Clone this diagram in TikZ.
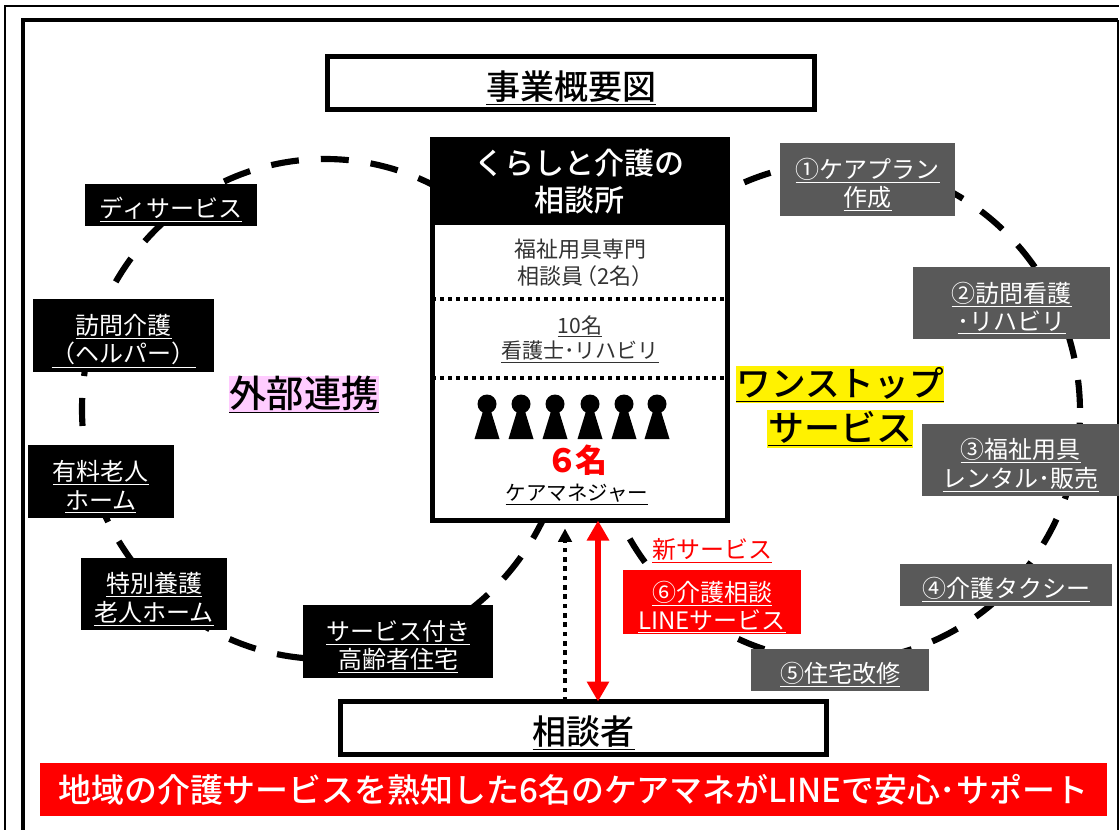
\documentclass[tikz,border=0pt]{standalone}
\usepackage{fontspec}
\setmainfont{Noto Sans CJK JP}
\newfontfamily\medfont{Noto Sans CJK JP Medium}
\usetikzlibrary{arrows.meta}
\definecolor{boxgray}{HTML}{595959}
\definecolor{pinkbg}{HTML}{FFCCFF}
\newcommand{\twolines}[2]{\rule{0pt}{23pt}\underline{#1}\\[.5pt]\underline{#2}}

\begin{document}
\begin{tikzpicture}[
		x=.75pt, y=-.75pt,
		every node/.style={align=center, inner sep=0pt, outer sep=0pt},
		labelfont/.style={font=\fontsize{18pt}{21pt}\selectfont},
		blackbox/.style={labelfont, fill=black, text=white, minimum height=54.5pt},
		graybox/.style={labelfont, fill=boxgray, text=white, minimum height=54.5pt},
		framebox/.style={draw, line width=3.75pt, fill=white, font=\medfont\fontsize{25.5pt}{30pt}\selectfont},
		ring/.style={line width=4.6pt, dash pattern=on 21pt off 16.5pt},
		>={Triangle[length=15pt, width=16pt]},
	]
	\useasboundingbox (0,0) rectangle (1119,830);

	% Outer frames
	\draw[line width=.8pt] (5,830) -- (5,6) -- (1119,6);
	\draw[line width=3.3pt] (23,830) -- (23,20) -- (1118,20);
	\draw[line width=.8pt] (1118,20) -- (1118,830);

	% Dashed rings
	\draw[ring, dash phase=31.8pt] (325,409) ellipse [x radius=243, y radius=250];
	\draw[ring, dash phase=29.5pt] (838,412) ellipse [x radius=242, y radius=249];

	% Title and client boxes
	\node[framebox, minimum width=365pt, minimum height=40pt] (T1) at (571,83.2) {\rule{0pt}{29pt}\underline{事業概要図}};
	\node[framebox, minimum width=364.5pt, minimum height=39.7pt] (C1) at (583.5,728) {\rule{0pt}{29pt}\underline{相談者}};

	% Centre box
	\node[draw, line width=3.75pt, fill=white, minimum width=221.25pt, minimum height=285.75pt] (B1) at (579.5,330) {};
	\node[fill=black, text=white, minimum width=221.25pt, minimum height=65.25pt,
		font=\medfont\fontsize{22.5pt}{27.7pt}\selectfont] (B2) at (579.5,182) {くらしと介護の\\相談所};
	\node[text=black!80, font=\fontsize{16.5pt}{20pt}\selectfont] (B3) at (580,263) {福祉用具専門\\相談員\kern-.35em（2名）\kern-.5em};
	\node[text=black!80, font=\fontsize{15.8pt}{19pt}\selectfont] (B4) at (580,339) {\underline{10名}\\\underline{看護士･リハビリ}};
	\node[text=red, font=\bfseries\fontsize{24pt}{28pt}\selectfont] (B5) at (577,460) {６\kern-.08em 名};
	\node[font=\fontsize{15.4pt}{18pt}\selectfont] (B6) at (577,495) {\underline{ケアマネジャー}};
	\draw[line width=3pt, dash pattern=on 3pt off 3pt] (B1.west |- 0,299) -- (B1.east |- 0,299);
	\draw[line width=3pt, dash pattern=on 3pt off 3pt] (B1.west |- 0,378) -- (B1.east |- 0,378);

	% Six people
	\foreach \px in {487,521,555,590,624,657} {
		\fill (\px,404) circle [radius=9.5];
		\fill (\px-3,408) -- (\px+3,408) -- (\px+12.5,439) -- (\px-12.5,439) -- cycle;
	}

	% Left ring labels
	\node[blackbox, minimum width=128.5pt, minimum height=31.5pt] (L1) at (171,205) {\rule{0pt}{22.5pt}\underline{ディサービス}};
	\node[blackbox, minimum width=135.75pt] (L2) at (123.5,335.5) {\twolines{訪問介護}{（ヘルパー）}};
	\node[blackbox, minimum width=109.5pt] (L3) at (100.75,481.5) {\twolines{有料老人}{ホーム}};
	\node[blackbox, minimum width=109.5pt] (L4) at (154,594) {\twolines{特別養護}{老人ホーム}};
	\node[blackbox, minimum width=142.5pt] (L5) at (398,641.5) {\twolines{サービス付き}{高齢者住宅}};

	% Right ring labels
	\node[graybox, minimum width=131.25pt] (R1) at (867.5,179.5) {\twolines{①ケアプラン}{作成}};
	\node[graybox, minimum width=147.75pt] (R2) at (1011.5,303) {\twolines{②訪問看護}{･リハビリ}};
	\node[graybox, minimum width=147.75pt] (R3) at (1020.5,460) {\twolines{③福祉用具}{レンタル･販売}};
	\node[graybox, minimum width=159pt, minimum height=31.5pt] (R4) at (1006,585) {\rule{0pt}{22.5pt}\underline{④介護タクシー}};
	\node[graybox, minimum width=133.5pt, minimum height=31.5pt] (R5) at (840,670) {\rule{0pt}{22.5pt}\underline{⑤住宅改修}};
	\node[labelfont, fill=red, text=white, minimum width=133.5pt, minimum height=48pt] (R6) at (712,602) {\twolines{⑥介護相談}{LINEサービス}};
	\node[labelfont, text=red] (R7) at (712,551) {\underline{新サービス}};

	% Highlighted words
	\node[fill=pinkbg, minimum width=112.5pt, minimum height=28pt, font=\medfont\fontsize{28pt}{32pt}\selectfont] (W1) at (304,394.5) {\underline{外部連携}};
	\node[fill=yellow, minimum width=154.5pt, minimum height=28pt, font=\medfont\fontsize{26pt}{32pt}\selectfont] (W2) at (840,384.5) {\underline{ワンストップ}};
	\node[fill=yellow, minimum width=109.5pt, minimum height=28pt, font=\medfont\fontsize{27pt}{32pt}\selectfont] (W3) at (840,429) {\underline{サービス}};

	% Connections between client and centre box
	\coordinate (P1) at (565,600);
	\coordinate (P2) at (598,600);
	\draw[-{Triangle[length=10pt, width=10pt]}, line width=3.4pt, dash pattern=on 3.5pt off 3.5pt, shorten >=6pt] (P1 |- C1.north) -- (P1 |- B1.south);
	\draw[<->, red, line width=4.5pt] (P2 |- C1.north) -- (P2 |- B1.south);

	% Bottom banner
	\node[fill=red, text=white, minimum width=800.25pt, minimum height=39.5pt, font=\medfont\fontsize{24.7pt}{28pt}\selectfont] (Z1) at (573.25,789.5) {地域の介護サービスを熟知した6名のケアマネがLINEで安心･サポート};
\end{tikzpicture}
\end{document}
